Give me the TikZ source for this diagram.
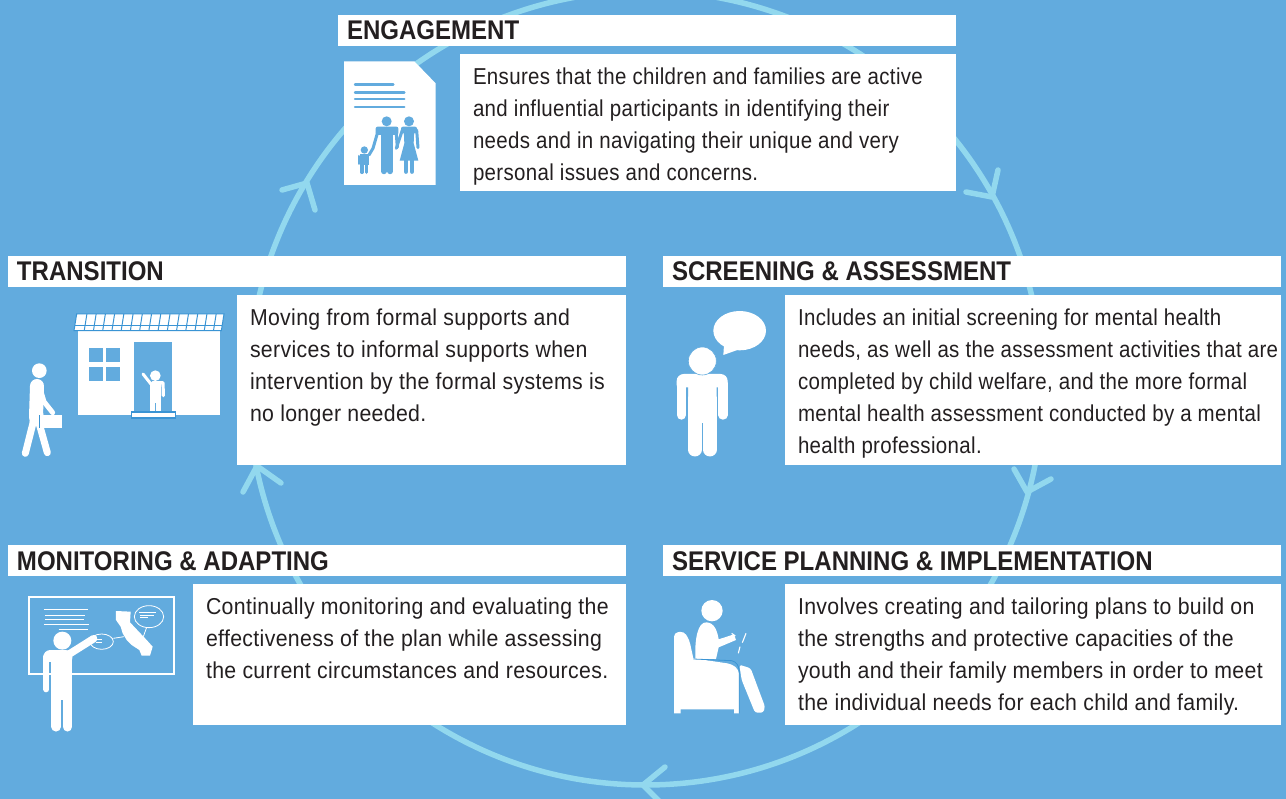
\documentclass[tikz,border=0pt]{standalone}
\usepackage{fontspec}
\setmainfont{Liberation Sans}
\newfontfamily\bodyf[FakeStretch=0.89,LetterSpace=1.5]{Liberation Sans}
\newfontfamily\bodyw[FakeStretch=0.925,LetterSpace=1.5]{Liberation Sans}
\newfontfamily\headf[FakeStretch=0.89]{Liberation Sans Bold}
\definecolor{bg}{RGB}{98,171,222}
\definecolor{ring}{RGB}{146,216,238}
\definecolor{ink}{RGB}{35,31,32}
\definecolor{deep}{RGB}{58,148,212}
\newcommand{\headbox}[1]{\begin{minipage}[c][31pt][t]{618pt}\headf\fontsize{27}{31}\selectfont\color{ink}\leftskip=9pt\parindent=0pt\rule{0pt}{25pt}#1\end{minipage}}
\newcommand{\txtbox}[4][\bodyf]{\begin{minipage}[c][#3pt][t]{#2pt}#1\fontsize{23}{32}\selectfont\color{ink}\leftskip=13pt\rightskip=-20pt plus 1fil\parindent=0pt\rule{0pt}{30.5pt}#4\end{minipage}}
\tikzset{
 panel/.style={fill=white,inner sep=0pt,outer sep=0pt,anchor=north west},
 ringline/.style={draw=ring,line width=5.5pt,line cap=round,line join=round},
 zoomed/.style={x=0.33333pt,y=-0.33333pt},
 wl/.style={draw=white,line cap=round,line join=round},
 bk/.style={draw=bg,line cap=round,line join=round},
 bl/.style={draw=bg,line cap=round}
}
\begin{document}
\begin{tikzpicture}[x=1pt,y=-1pt]
\useasboundingbox (0,0) rectangle (1286,799);
\clip (0,0) rectangle (1286,799);
\fill[bg] (0,0) rectangle (1286,799);
% ring
\draw[ringline] (645.5,388) circle [radius=397];
\coordinate (t1) at (307,183); \coordinate (a1) at (282,190); \coordinate (b1) at (315,210);
\coordinate (t2) at (992,197); \coordinate (a2) at (966,192); \coordinate (b2) at (998,170);
\coordinate (t3) at (1027,492); \coordinate (a3) at (1014,469); \coordinate (b3) at (1051,479);
\coordinate (t4) at (257,466); \coordinate (a4) at (243,492); \coordinate (b4) at (281,483);
\coordinate (t5) at (643,785); \coordinate (a5) at (665,767); \coordinate (b5) at (665,807);
\foreach \i in {1,...,5} \draw[ringline] (a\i) -- (t\i) -- (b\i);
% panels
\node[panel] (h1) at (338,15) {\headbox{ENGAGEMENT}};
\node[panel] (h2) at (663,256) {\headbox{SCREENING \& ASSESSMENT}};
\node[panel] (h3) at (8,256) {\headbox{TRANSITION}};
\node[panel] (h4) at (8,545) {\headbox{MONITORING \& ADAPTING}};
\node[panel] (h5) at (663,545) {\headbox{SERVICE PLANNING \& IMPLEMENTATION}};
\node[panel] (p1) at (460,54) {\txtbox{496}{137}{Ensures that the children and families are active\\and influential participants in identifying their\\needs and in navigating their unique and very\\personal issues and concerns.}};
\node[panel] (p2) at (785,295) {\txtbox{496}{170}{Includes an initial screening for mental health\\needs, as well as the assessment activities that are\\completed by child welfare, and the more formal\\mental health assessment conducted by a mental\\health professional.}};
\node[panel] (p3) at (237,295) {\txtbox[\bodyw]{389}{170}{Moving from formal supports and\\services to informal supports when\\intervention by the formal systems is\\no longer needed.}};
\node[panel] (p4) at (193,584) {\txtbox[\bodyw]{433}{141}{Continually monitoring and evaluating the\\effectiveness of the plan while assessing\\the current circumstances and resources.}};
\node[panel] (p5) at (785,584) {\txtbox[\bodyw]{496}{141}{Involves creating and tailoring plans to build on\\the strengths and protective capacities of the\\youth and their family members in order to meet\\the individual needs for each child and family.}};
% document icon
\begin{scope}[shift={(335,50)},zoomed]
\fill[white] (27,34) -- (238,34) -- (302,100) -- (302,405) -- (27,405) -- cycle;
\draw[bl,line width=2.4pt] (60,103) -- (175,103) (60,127) -- (208,127) (60,147) -- (208,147) (60,171) -- (208,171);
\fill[bg] (155,214) circle [radius=15] (222,214) circle [radius=15] (88,300) circle [radius=11];
% man
\fill[bg,rounded corners=2pt] (122,230) -- (190,230) -- (190,255) -- (122,255) -- cycle;
\fill[bg] (137,235) rectangle (175,310);
\draw[bk,line width=5.8pt] (146.5,305) -- (146.5,364) (165.5,305) -- (165.5,364);
\draw[bk,line width=3pt] (130,240) -- (114,295) -- (102,315) (183,240) -- (187,292);
% woman
\fill[bg,rounded corners=2pt] (198,230) -- (246,230) -- (246,250) -- (198,250) -- cycle;
\draw[bk,line width=3pt] (202,240) -- (184,295) (245,240) -- (249,293);
\fill[bg] (206,232) -- (238,232) -- (236,280) -- (250,332) -- (194,332) -- (208,280) -- cycle;
\draw[bk,line width=4.4pt] (213,332) -- (213,365) (231,332) -- (231,365);
% child
\fill[bg] (76,312) rectangle (101,345);
\draw[bk,line width=2pt] (73,318) -- (73,342);
\draw[bk,line width=3.4pt] (81,345) -- (81,367) (94,345) -- (94,367);
\end{scope}
% speaking person
\begin{scope}[shift={(660,300)},zoomed]
\fill[white,rounded corners=7pt] (50,275) -- (50,222) -- (203,222) -- (203,275) -- cycle;
\fill[white] (84,240) rectangle (170,368);
\fill[bg] (78,262) rectangle (84,290) (170,262) rectangle (176,290);
\draw[wl,line width=9.4pt] (64,250) -- (64,345) (189,250) -- (189,345);
\draw[wl,line width=13.6pt] (104.5,368) -- (104.5,449) (149.5,368) -- (149.5,449);
\draw[bg,line width=0.6pt,fill=white] (127,183) circle [radius=42];
\fill[white] (190,165) -- (192,135) -- (232,150) -- cycle;
\fill[white] (239,92) ellipse [x radius=79,y radius=59];
\end{scope}
% house and walker
\begin{scope}[shift={(0,300)},zoomed]
\fill[white] (234,92) rectangle (660,345);
\fill[bg] (403,127) rectangle (516,345);
\foreach \x/\y in {267/144,319/144,267/200,319/200} \fill[bg] (\x,\y) rectangle ++(41,43);
\draw[deep,fill=white,line width=1pt] (222,92) -- (230,42) -- (672,42) -- (664,92) -- cycle;
\draw[deep,line width=1pt] (224,76) -- (667,76);
\foreach \k in {1,...,15} \draw[deep,line width=1pt] ({225+27.7*\k},92) -- ({233+27.7*\k},42);
\draw[deep,fill=white,line width=1.6pt] (395,336) rectangle (526,354);
% child in door
\fill[white] (466,227) circle [radius=16];
\fill[white] (450,248) rectangle (483,310);
\draw[wl,line width=3pt] (456,256) -- (429,222);
\draw[wl,line width=3.2pt] (458,248) -- (489,248) -- (490,287);
\draw[white,line width=5pt] (457.5,305) -- (457.5,333) (475.5,305) -- (475.5,333);
% walker
\fill[white] (118,212) circle [radius=22];
\draw[wl,line width=14pt] (111,258) -- (108,350);
\fill[white] (87,340) -- (130,340) -- (128,375) -- (90,375) -- cycle;
\draw[wl,line width=7pt] (100,365) -- (76,460) (116,365) -- (142,458);
\draw[wl,line width=5pt] (120,265) -- (132,305) -- (158,338);
\fill[white] (118,346) rectangle (186,385);
\draw[deep,line width=0.6pt] (118,346) -- (118,385);
\end{scope}
% board
\begin{scope}[shift={(0,585)},zoomed]
\draw[white,line width=1.8pt] (87,36) rectangle (523,266);
\draw[white,line width=1pt] (132,73) -- (265,73) (135,90) -- (255,90) (135,103) -- (252,103) (132,118) -- (268,118) (176,133) -- (264,133);
\fill[white] (348,78) -- (392,80) -- (390,112) -- (440,165) -- (458,185) -- (450,212) -- (425,212) -- (418,195) -- (395,180) -- (380,165) -- (368,145) -- (362,125) -- (348,105) -- cycle;
\draw[white,line width=0.8pt] (447,95) ellipse [x radius=44,y radius=33];
\draw[white,line width=0.8pt] (305,170) ellipse [x radius=35,y radius=23];
\draw[white,line width=0.8pt] (340,160) -- (372,155) (440,127) -- (430,155);
\draw[white,line width=0.8pt] (418,82) -- (468,82) (420,90) -- (462,90) (420,98) -- (445,98);
\draw[white,line width=0.8pt] (285,162) -- (305,162) (288,172) -- (305,172);
\fill[white] (187,167) circle [radius=27];
\fill[white,rounded corners=7pt] (130,240) -- (130,195) -- (217,195) -- (217,240) -- cycle;
\fill[white] (153,215) rectangle (217,345);
\fill[bg] (148,232) rectangle (153,260);
\draw[wl,line width=6pt] (139,215) -- (139,313);
\draw[wl,line width=7.5pt] (200,212) -- (281,161);
\draw[wl,line width=9.8pt] (168.5,340) -- (168.5,425) (202.5,340) -- (202.5,425);
\end{scope}
% reader in armchair
\begin{scope}[shift={(660,590)},zoomed]
\fill[white] (42,370) [rounded corners=4pt] -- (42,128) -- (72,124) -- (88,150) [sharp corners] -- (100,205) [rounded corners=4pt] -- (215,222) -- (237,240) [sharp corners] -- (237,370) -- (222,370) -- (222,358) -- (62,358) -- (62,370) -- cycle;
\fill[white] (156,62) circle [radius=32];
\fill[white] (106,207) .. controls (104,150) and (112,95) .. (140,97) .. controls (165,99) and (172,125) .. (176,148) -- (222,133) -- (228,150) -- (176,172) -- (168,207) -- cycle;
\fill[white,rounded corners=2.5pt] (238,224) -- (272,235) -- (315,350) -- (310,368) -- (285,368) -- (245,270) -- cycle;
\draw[deep,line width=0.8pt] (100,207) -- (215,212) .. controls (230,215) and (237,228) .. (238,245) -- (238,370);
\draw[white,line width=1.1pt] (258,130) -- (247,158) (215,130) -- (226,138) (240,170) -- (235,190);
\end{scope}
\end{tikzpicture}
\end{document}
